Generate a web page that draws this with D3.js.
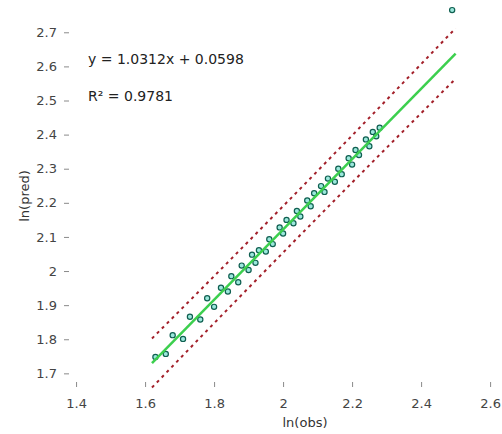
<!DOCTYPE html>
<html>
<head>
<meta charset="utf-8">
<script src="https://cdn.jsdelivr.net/npm/d3@7"></script>
<style>
  html, body { margin: 0; padding: 0; background: #fff; }
  svg { display: block; font-family: "DejaVu Sans", sans-serif; }
</style>
</head>
<body>
<svg id="chart" width="502" height="434"></svg>
<script>
// Observations (log scale)
const obsX = [1.63, 1.66, 1.68, 1.71, 1.73, 1.76, 1.78, 1.80, 1.82, 1.84, 1.85, 1.87, 1.88, 1.90,
  1.91, 1.92, 1.93, 1.95, 1.96, 1.97, 1.99, 2.00, 2.01, 2.03, 2.04, 2.05, 2.07, 2.08, 2.09, 2.11,
  2.12, 2.13, 2.15, 2.16, 2.17, 2.19, 2.20, 2.21, 2.22, 2.24, 2.25, 2.26, 2.27, 2.28, 2.49];
const obsY = [1.748, 1.757, 1.812, 1.801, 1.866, 1.858, 1.920, 1.895, 1.951, 1.940, 1.985, 1.967, 2.016, 2.003,
  2.048, 2.024, 2.061, 2.057, 2.093, 2.079, 2.128, 2.110, 2.150, 2.140, 2.176, 2.160, 2.207, 2.190, 2.228, 2.249,
  2.232, 2.271, 2.262, 2.300, 2.284, 2.331, 2.312, 2.355, 2.340, 2.386, 2.366, 2.408, 2.395, 2.420, 2.765];

// Fitted line
const slope = 1.0312;
const intercept = 0.0598;
const rSquared = 0.9781;
const fitRange = [1.62, 2.50];

// 95% prediction band: half-width at a few x positions
const bandX = [1.62, 1.80, 2.00, 2.20, 2.50];
const bandHalf = [0.072, 0.069, 0.068, 0.069, 0.074];

// Axis ticks
const xTicks = [1.4, 1.6, 1.8, 2, 2.2, 2.4, 2.6];
const yTicks = [1.7, 1.8, 1.9, 2, 2.1, 2.2, 2.3, 2.4, 2.5, 2.6, 2.7];

const svg = d3.select("#chart");
const x = d3.scaleLinear().domain([1.365, 2.62]).range([64, 497]);
const y = d3.scaleLinear().domain([1.66, 2.78]).range([387, 5]);

// Axes: tick marks and labels only
const xAxis = d3.axisBottom(x).tickValues(xTicks).tickSizeInner(-5).tickSizeOuter(0)
  .tickPadding(12).tickFormat(d => String(d));
const gx = svg.append("g").attr("transform", `translate(0,${y.range()[0]})`).call(xAxis);
gx.select(".domain").remove();
gx.selectAll(".tick line").attr("stroke", "#8a8a8a");
gx.selectAll(".tick text").attr("fill", "#444").attr("font-size", 13)
  .attr("font-family", "DejaVu Sans, sans-serif");

const yAxis = d3.axisLeft(y).tickValues(yTicks).tickSizeInner(-5).tickSizeOuter(0)
  .tickPadding(7).tickFormat(d => String(d));
const gy = svg.append("g").attr("transform", `translate(${x.range()[0]},0)`).call(yAxis);
gy.select(".domain").remove();
gy.selectAll(".tick line").attr("stroke", "#8a8a8a");
gy.selectAll(".tick text").attr("fill", "#444").attr("font-size", 13)
  .attr("font-family", "DejaVu Sans, sans-serif");

// Axis titles
svg.append("text").attr("x", 305).attr("y", 427).attr("text-anchor", "middle")
  .attr("font-size", 13).attr("fill", "#333").text("ln(obs)");
svg.append("text").attr("transform", "translate(29,196) rotate(-90)").attr("text-anchor", "middle")
  .attr("font-size", 13).attr("fill", "#333").text("ln(pred)");

// Prediction band
const bandLine = d3.line().curve(d3.curveMonotoneX).x(d => x(d[0])).y(d => y(d[1]));
const upper = bandX.map((bx, i) => [bx, slope * bx + intercept + bandHalf[i]]);
const lower = bandX.map((bx, i) => [bx, slope * bx + intercept - bandHalf[i]]);
[upper, lower].forEach(b => {
  svg.append("path").attr("d", bandLine(b)).attr("fill", "none")
    .attr("stroke", "#a3202a").attr("stroke-width", 2).attr("stroke-dasharray", "3,4");
});

// Points
svg.append("g").selectAll("circle").data(obsX.map((v, i) => [v, obsY[i]])).join("circle")
  .attr("cx", d => x(d[0])).attr("cy", d => y(d[1])).attr("r", 2.6)
  .attr("fill", "#9be8dc").attr("stroke", "#0f5f50").attr("stroke-width", 1.2);

// Regression line
svg.append("line")
  .attr("x1", x(fitRange[0])).attr("y1", y(slope * fitRange[0] + intercept))
  .attr("x2", x(fitRange[1])).attr("y2", y(slope * fitRange[1] + intercept))
  .attr("stroke", "#3ccf4e").attr("stroke-width", 2.5);

// Equation and R²
svg.append("text").attr("x", 88).attr("y", 64).attr("font-size", 14).attr("fill", "#222")
  .text(`y = ${slope.toFixed(4)}x + ${intercept.toFixed(4)}`);
svg.append("text").attr("x", 88).attr("y", 101).attr("font-size", 14).attr("fill", "#222")
  .text(`R² = ${rSquared.toFixed(4)}`);
</script>
</body>
</html>
